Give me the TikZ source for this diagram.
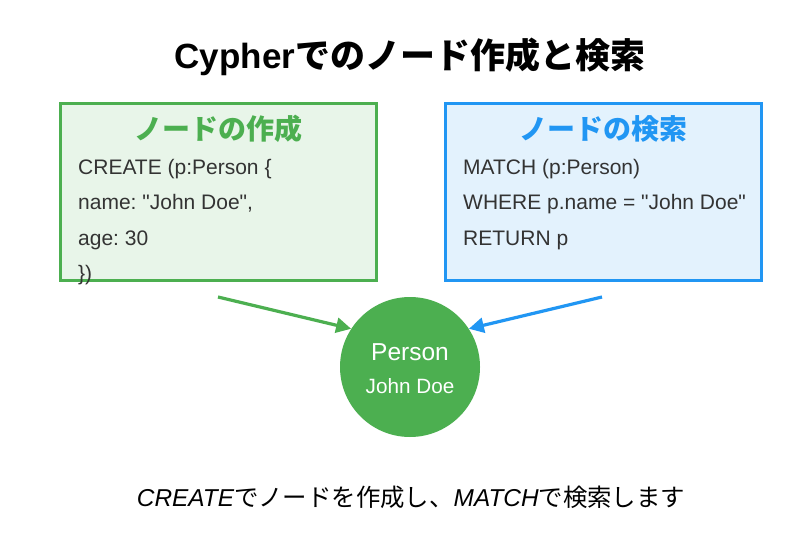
\documentclass[tikz,border=0pt]{standalone}
\usepackage{fontspec}
\setmainfont{Liberation Sans}
\newfontfamily\codefont{Liberation Sans}
\newfontfamily\jp{Noto Sans CJK JP}
\usetikzlibrary{arrows.meta}
\definecolor{grn}{HTML}{4CAF50}
\definecolor{blu}{HTML}{2196F3}
\definecolor{grnbg}{HTML}{E8F5E9}
\definecolor{blubg}{HTML}{E3F2FD}
\definecolor{txt}{HTML}{333333}
\tikzset{
  box/.style={draw=#1, line width=3pt, inner sep=0pt},
  code/.style={anchor=base west, inner sep=0pt, text=txt, font=\codefont\fontsize{21}{21}\selectfont},
  boxtitle/.style={anchor=base, inner sep=0pt, text=#1, font=\jp\bfseries\fontsize{28}{28}\selectfont},
  conn/.style={draw=#1, line width=3.2pt, -{Triangle[length=15pt,width=15pt]}},
}
\begin{document}
\frenchspacing
\begin{tikzpicture}[x=1pt,y=-1pt]
\useasboundingbox[fill=white] (0,0) rectangle (786,545);
% title
\node[anchor=base, inner sep=0pt] (title) at (410,69)
  {\fontsize{35}{35}\selectfont\bfseries Cypher{\jp でのノード作成と検索}};
% boxes
\draw[box=grn, fill=grnbg] (60,104) rectangle (376,280);
\coordinate (gbox) at (218,192);
\draw[box=blu, fill=blubg] (445,104) rectangle (761,280);
\coordinate (bbox) at (603,192);
\node[boxtitle=grn] (gt) at (218,140) {ノードの作成};
\node[boxtitle=blu] (bt) at (603,140) {ノードの検索};
\node[code] (g1) at (78,175) {CREATE (p:Person \{};
\node[code] (g2) at (78,210) {name: "John Doe",};
\node[code] (g3) at (78,245) {age: 30};
\node[code] (g4) at (78,280) {\})};
\node[code] (b1) at (463,175) {MATCH (p:Person)};
\node[code] (b2) at (463,210) {WHERE p.name = "John Doe"};
\node[code] (b3) at (463,245) {RETURN p};
% person node
\node[circle, fill=grn, minimum size=140pt, inner sep=0pt] (person) at (410,367) {};
\node[anchor=base, inner sep=0pt, text=white, font=\fontsize{24.5}{24.5}\selectfont] (pl) at (410,360) {Person};
\node[anchor=base, inner sep=0pt, text=white, font=\fontsize{20.7}{20.7}\selectfont] (pn) at (410,393) {John Doe};
% connectors
\coordinate (gs) at (218,297);
\coordinate (bs) at (602,297);
\draw[conn=grn] (gs) -- (person.147);
\draw[conn=blu] (bs) -- (person.33);
% caption
\node[anchor=base, inner sep=0pt, text=black, font=\fontsize{24.4}{24.4}\selectfont] (cap) at (411,506)
  {\itshape CREATE\upshape{\jp でノードを作成し、}\itshape MATCH\upshape{\jp で検索します}};
\end{tikzpicture}
\end{document}
